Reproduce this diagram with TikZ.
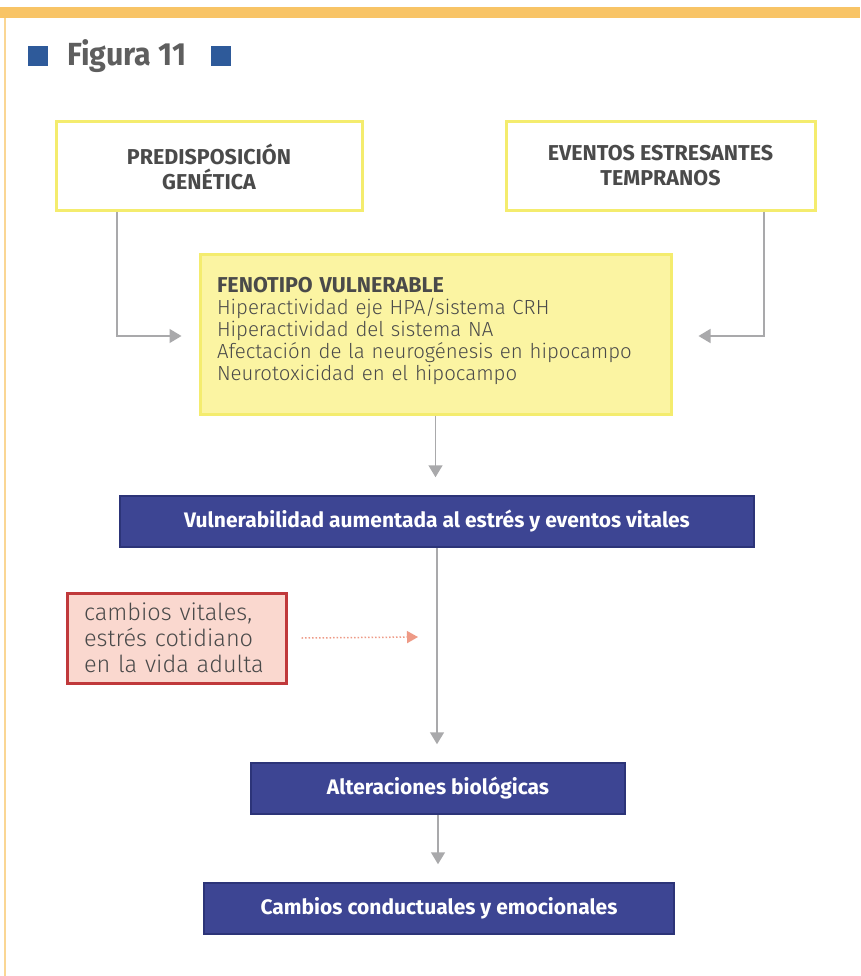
\documentclass[tikz,border=0pt]{standalone}
\usepackage{fontspec}
\usepackage{graphicx}
\setmainfont{Fira Sans}
\newfontfamily\lightfont{Fira Sans Light}
\usetikzlibrary{arrows.meta}
\definecolor{ybord}{HTML}{F4EC6E}
\definecolor{yfill}{HTML}{FBF4A2}
\definecolor{bluebox}{HTML}{3D4593}
\definecolor{blueline}{HTML}{2C3478}
\definecolor{txtgray}{HTML}{4A4A4A}
\definecolor{arrowgray}{HTML}{A9A9AB}
\definecolor{pinkfill}{HTML}{FAD8CF}
\definecolor{redbord}{HTML}{C0393B}
\definecolor{pinkarrow}{HTML}{EE9A86}
\definecolor{orangeband}{HTML}{F8C466}
\definecolor{titleblue}{HTML}{2E5A9A}
\definecolor{titlegray}{HTML}{5E5E5E}
\tikzset{
  ybox/.style={draw=ybord, line width=3pt, fill=white, minimum width=306pt, minimum height=89pt,
    align=center, font=\fontsize{21.5}{25}\selectfont\bfseries, text=txtgray, inner sep=0pt},
  fenbox/.style={draw=ybord, line width=3pt, fill=yfill, minimum width=471pt, minimum height=160pt,
    align=left, text width=437pt, font=\lightfont\fontsize{20.4}{22}\selectfont, text=txtgray, inner xsep=17pt},
  bbox/.style={draw=blueline, line width=1.5pt, fill=bluebox, minimum height=51pt,
    font=\fontsize{21}{24}\selectfont\bfseries, text=white, inner sep=0pt},
  rbox/.style={draw=redbord, line width=3pt, fill=pinkfill, minimum width=219pt, minimum height=90pt,
    align=left, text width=185pt, font=\lightfont\fontsize{23.5}{26}\selectfont, text=txtgray, inner xsep=17pt},
  conn/.style={draw=arrowgray, line width=1.5pt, -{Triangle[length=12pt,width=14pt]}},
  dotconn/.style={draw=pinkarrow, line width=1.5pt, dotted, -{Triangle[length=11pt,width=12pt]}},
  sq/.style={fill=titleblue, minimum width=20pt, minimum height=20pt, inner sep=0pt},
}
\begin{document}
\begin{tikzpicture}[x=1pt,y=-1pt]
\useasboundingbox (0,0) rectangle (860,976);
\fill[white] (0,0) rectangle (860,976);
% frame
\fill[orangeband] (0,7) rectangle (860,18);
\fill[orangeband!70] (3.5,18) rectangle (5.5,976);
% title
\node[sq] (sq1) at (38,56) {};
\node[anchor=west, text=titlegray, font=\fontsize{32}{34}\selectfont\bfseries, inner sep=0pt] (title) at (67,56) {\scalebox{0.95}[1]{Figura 11}};
\node[sq] (sq2) at (221,56) {};
% boxes
\node[ybox] (pred) at (209,166.5) {PREDISPOSICIÓN\\GENÉTICA};
\node[ybox, minimum width=309pt] (even) at (660.5,166) {EVENTOS ESTRESANTES\\TEMPRANOS};
\node[fenbox] (fen) at (435.5,334) {{\normalfont\bfseries\fontsize{21.5}{22}\selectfont FENOTIPO VULNERABLE}\\Hiperactividad eje HPA/sistema CRH\\Hiperactividad del sistema NA\\Afectación de la neurogénesis en hipocampo\\Neurotoxicidad en el hipocampo\\[-12pt]\mbox{}};
\node[bbox, minimum width=634pt] (vuln) at (437,521.5) {Vulnerabilidad aumentada al estrés y eventos vitales};
\node[rbox] (camb) at (176.5,638) {cambios vitales,\\estrés cotidiano\\en la vida adulta};
\node[bbox, minimum width=374pt] (alt) at (438,788.5) {Alteraciones biológicas};
\node[bbox, minimum width=470pt] (cond) at (439,908.5) {Cambios conductuales y emocionales};
% connectors
\draw[conn] ([xshift=-92pt]pred.south) |- ([xshift=-17pt,yshift=-2pt]fen.west);
\draw[conn] ([xshift=103.5pt]even.south) |- ([xshift=26pt,yshift=-2pt]fen.east);
\draw[conn] (fen.south) -- ([yshift=18pt]fen.south |- vuln.north);
\draw[conn] (vuln.south) -- ([yshift=18pt]vuln.south |- alt.north);
\draw[conn] (alt.south) -- ([yshift=18pt]alt.south |- cond.north);
\coordinate (dotend) at (418,637);
\draw[dotconn] ([xshift=14pt]camb.east) -- (dotend);
\end{tikzpicture}
\end{document}
